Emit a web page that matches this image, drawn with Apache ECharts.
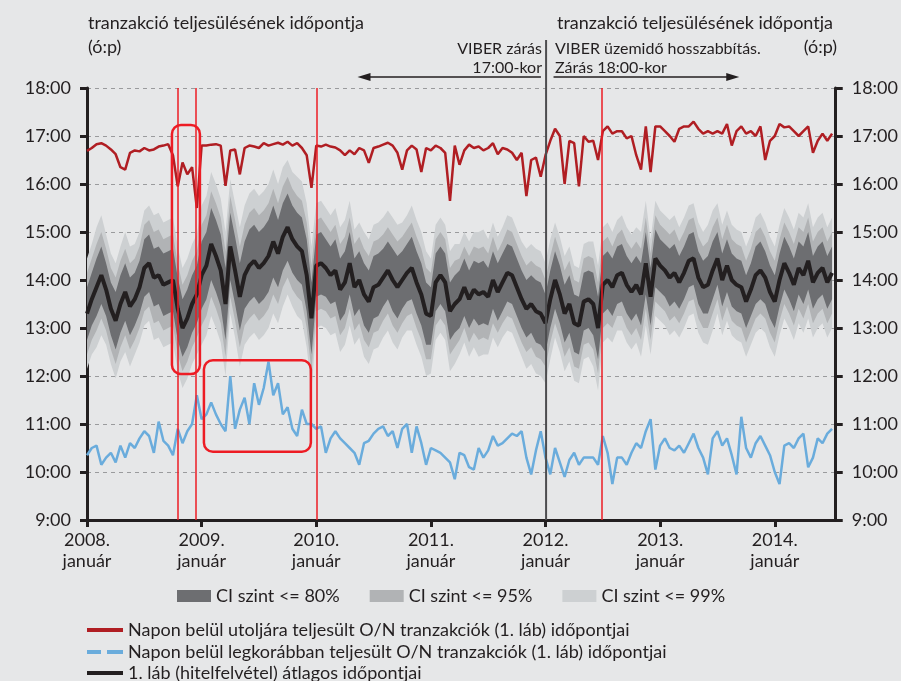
<!DOCTYPE html>
<html>
<head>
<meta charset="utf-8">
<script src="https://cdn.jsdelivr.net/npm/echarts@6/dist/echarts.min.js"></script>
<style>
  html, body { margin: 0; padding: 0; background: #e6e7e8; }
  #chart { width: 901px; height: 681px; }
</style>
</head>
<body>
<div id="chart"></div>
<script>
// félhavi pontok 2008. jan. 1-től 2014. júl. 1-ig, órában (pl. 16.5 = 16:30)
var lastTrade = [
  16.69,16.75,16.83,16.85,16.8,16.72,16.62,16.35,16.3,16.65,16.7,16.68,16.75,16.7,16.72,16.78,16.8,16.83,16.6,15.95,16.45,16.2,16.35,15.5,16.8,16.8,16.82,
  16.83,16.8,15.96,16.7,16.72,16.2,16.75,16.8,16.78,16.75,16.85,16.8,16.83,16.86,16.82,16.88,16.8,16.85,16.75,16.6,15.92,16.8,16.78,16.82,16.78,
  16.76,16.7,16.6,16.7,16.62,16.75,16.7,16.44,16.75,16.78,16.82,16.86,16.8,16.65,16.3,16.7,16.8,16.72,16.25,16.75,16.7,16.8,16.75,16.65,15.65,16.8,16.4,
  16.7,16.82,16.75,16.78,16.7,16.75,16.85,16.62,16.75,16.72,16.65,16.5,16.65,15.75,16.5,16.55,16.15,16.6,16.9,17.15,17.0,16.0,16.9,16.85,15.95,17.0,
  16.88,16.9,16.5,17.1,17.2,17.05,17.1,17.1,16.95,17.0,16.6,16.3,17.2,16.25,17.2,17.2,17.1,17.0,16.88,17.15,17.2,17.2,17.3,17.15,17.05,17.1,
  17.05,17.1,17.05,17.25,16.8,17.1,17.2,17.05,17.1,17.0,17.2,16.5,16.9,17.0,17.25,17.18,17.2,17.1,17.0,17.1,17.2,16.65,16.9,17.05,16.9,17.05
];
var firstTrade = [
  10.35,10.5,10.55,10.15,10.3,10.4,10.2,10.55,10.3,10.6,10.5,10.7,10.85,10.75,10.4,11.05,10.65,10.55,10.35,10.9,10.6,10.85,11.0,11.6,11.1,11.2,11.45,
  11.2,11.0,10.85,12.0,10.9,11.3,11.55,11.0,11.85,11.4,11.75,12.3,11.6,11.85,11.2,11.35,10.9,10.75,11.3,11.0,11.0,10.9,10.95,10.4,10.7,
  10.85,10.7,10.6,10.5,10.4,10.15,10.6,10.65,10.8,10.9,10.95,10.75,10.85,10.5,10.9,11.0,10.4,10.95,10.6,10.15,10.5,10.45,10.4,10.3,10.2,9.85,10.4,
  10.35,10.1,10.05,10.5,10.3,10.45,10.75,10.55,10.6,10.7,10.8,10.75,10.85,10.3,9.95,10.45,10.85,10.3,9.95,10.5,10.2,9.9,10.25,10.4,10.15,10.3,
  10.3,10.3,10.15,10.75,10.4,9.75,10.3,10.3,10.15,10.4,10.6,10.5,10.85,11.1,10.05,10.55,10.7,10.5,10.45,10.55,10.4,10.6,10.8,10.5,10.3,9.95,
  10.7,10.85,10.55,10.7,10.35,9.95,11.15,10.5,10.3,10.6,10.75,10.55,10.35,10.0,9.75,10.55,10.6,10.5,10.7,10.8,10.1,10.3,10.7,10.6,10.8,10.9
];
var avgTime = [
  13.3,13.6,13.85,14.1,13.8,13.4,13.15,13.5,13.75,13.45,13.6,13.85,14.25,14.35,14.05,14.1,13.9,13.95,14.0,13.4,13.0,13.2,13.5,13.7,14.1,14.3,14.75,
  14.5,14.2,13.5,14.7,14.2,13.65,14.1,14.3,14.4,14.25,14.35,14.5,14.8,14.55,14.9,15.1,14.85,14.7,14.6,14.1,13.2,14.3,14.35,14.25,14.1,
  14.2,13.8,13.95,14.35,13.85,14.0,13.7,13.55,13.85,13.9,14.05,14.2,14.0,13.85,14.0,14.15,14.25,13.95,13.7,13.3,13.25,13.95,14.1,13.95,13.35,13.5,13.6,
  13.85,13.6,13.8,13.7,13.75,13.65,14.0,13.75,13.95,14.15,14.1,13.85,13.6,13.4,13.5,13.35,13.3,13.1,13.6,14.0,13.7,13.3,13.5,13.1,13.05,13.55,
  13.6,13.5,13.0,13.9,14.0,13.85,14.1,14.15,13.9,13.75,13.9,13.7,14.35,13.65,14.45,14.3,14.2,14.05,14.15,13.95,14.15,14.4,14.45,14.05,13.85,13.9,
  14.2,14.45,14.0,14.3,14.0,13.9,13.85,13.55,13.8,14.1,14.2,14.05,13.75,13.55,14.0,14.35,14.15,13.9,14.25,14.1,14.4,13.95,14.15,14.25,13.95,14.15
];
// konfidencia-sávok havi félszélessége (óra), 2008. jan. - 2014. júl.
var ci80 = [
  .55,.6,.55,.6,.6,.55,.6,.6,.65,.65,.6,.6,
  .7,.75,.75,.7,.7,.75,.75,.75,.7,.7,.7,.75,
  .65,.6,.65,.65,.6,.65,.65,.6,.65,.6,.65,.65,
  .6,.6,.6,.6,.6,.65,.6,.6,.6,.6,.6,.65,
  .6,.6,.6,.6,.6,.65,.6,.6,.6,.6,.65,.6,
  .55,.6,.55,.55,.55,.6,.55,.55,.55,.55,.6,.55,
  .55,.55,.55,.6,.55,.55,.55
];
var ci95 = [
  .85,.9,.85,.9,.9,.85,.9,.95,.95,.95,.9,.9,
  1.05,1.1,1.1,1.05,1.05,1.1,1.1,1.1,1.05,1.05,1.05,1.1,
  .95,.9,.95,.95,.9,.95,.95,.9,.95,.9,.95,.95,
  .9,.9,.9,.85,.9,.95,.9,.85,.9,.9,.9,.95,
  .9,.9,.9,.9,.9,.95,.9,.85,.9,.9,.95,.9,
  .85,.9,.85,.85,.85,.9,.85,.85,.85,.85,.9,.85,
  .85,.85,.85,.9,.85,.85,.85
];
var ci99 = [
  1.15,1.25,1.15,1.2,1.25,1.15,1.2,1.3,1.3,1.3,1.25,1.25,
  1.45,1.5,1.5,1.4,1.45,1.5,1.5,1.5,1.45,1.4,1.45,1.5,
  1.3,1.25,1.3,1.3,1.2,1.3,1.3,1.25,1.3,1.2,1.3,1.3,
  1.2,1.2,1.25,1.15,1.2,1.3,1.2,1.15,1.2,1.2,1.25,1.3,
  1.25,1.2,1.2,1.2,1.2,1.3,1.2,1.15,1.2,1.2,1.3,1.2,
  1.15,1.2,1.15,1.15,1.15,1.25,1.15,1.15,1.15,1.15,1.2,1.15,
  1.15,1.15,1.15,1.2,1.15,1.15,1.15
];
// függőleges jelölések (tört év)
var redMarks = [2008.793, 2008.95, 2009.997, 2012.49];
var viberDate = 2012.005;

var FONT = 'Lato, "Open Sans", sans-serif';
var TXT = '#231f20';

var xs = [];
for (var i = 0; i < avgTime.length; i++) xs.push(2008 + i / 24);

function pairs(vals) {
  return vals.map(function (v, i) { return [xs[i], v]; });
}

// konfidencia-sáv: egy poligon a felső és alsó szélből
function band(w, name, color) {
  var data = xs.map(function (x, i) {
    var m = Math.floor(i / 2);
    return [x, avgTime[i] - w[m], avgTime[i] + w[m]];
  });
  return {
    name: name, type: 'custom', silent: true, data: data,
    encode: { x: 0, y: [1, 2] },
    itemStyle: { color: color },
    renderItem: function (params, api) {
      if (params.dataIndex !== 0) return;
      var up = [], down = [];
      for (var i = 0; i < data.length; i++) {
        up.push(api.coord([data[i][0], data[i][2]]));
        down.push(api.coord([data[i][0], data[i][1]]));
      }
      return { type: 'polygon', shape: { points: up.concat(down.reverse()) },
        style: { fill: color } };
    }
  };
}

var chart = echarts.init(document.getElementById('chart'));

var nameRed = 'Napon belül utoljára teljesült O/N tranzakciók (1. láb) időpontjai';
var nameBlue = 'Napon belül legkorábban teljesült O/N tranzakciók (1. láb) időpontjai';
var nameBlack = '1. láb (hitelfelvétel) átlagos időpontjai';

var series = [
  band(ci99, 'CI szint <= 99%', '#cdd0d2'),
  band(ci95, 'CI szint <= 95%', '#b1b3b5'),
  band(ci80, 'CI szint <= 80%', '#6d6e71'),
  { name: nameRed, type: 'line', data: pairs(lastTrade), symbol: 'none',
    itemStyle: { color: '#b01e23' }, lineStyle: { color: '#b01e23', width: 2.5 } },
  { name: nameBlue, type: 'line', data: pairs(firstTrade), symbol: 'none',
    itemStyle: { color: '#6aacdc' }, lineStyle: { color: '#6aacdc', width: 2.5 } },
  { name: nameBlack, type: 'line', data: pairs(avgTime), symbol: 'none',
    itemStyle: { color: '#231f20' }, lineStyle: { color: '#231f20', width: 4 },
    markLine: {
      silent: true, symbol: 'none', label: { show: false },
      lineStyle: { color: '#ed1c24', width: 1.5, type: 'solid' },
      data: redMarks.map(function (x) { return { xAxis: x }; })
    } }
];

var yAxisBase = {
  type: 'value', min: 9, max: 18, interval: 1,
  axisLine: { show: true, lineStyle: { color: TXT, width: 3 } },
  axisTick: { show: true, length: 7, lineStyle: { color: TXT, width: 3 } },
  axisLabel: { fontFamily: FONT, fontSize: 18, color: TXT, margin: 16,
    formatter: function (v) { return v + ':00'; } }
};

function lineLegend(name, top, icon, color) {
  return {
    left: 87, top: top, padding: 0, itemWidth: 36, itemHeight: 4, itemGap: 0,
    selectedMode: false,
    textStyle: { fontFamily: FONT, fontSize: 18, color: TXT },
    data: [{ name: name, icon: icon, itemStyle: { color: color } }]
  };
}

chart.setOption({
  backgroundColor: '#e6e7e8',
  animation: false,
  textStyle: { fontFamily: FONT },
  grid: { left: 87, right: 65, top: 88, bottom: 161 },
  xAxis: {
    type: 'value', min: 2008, max: 2014.532, interval: 1,
    axisLine: { lineStyle: { color: TXT, width: 3 } },
    axisTick: { length: 7, lineStyle: { color: TXT, width: 3 } },
    splitLine: { show: false },
    axisLabel: { fontFamily: FONT, fontSize: 18, color: TXT, margin: 10, lineHeight: 21,
      showMaxLabel: false,
      formatter: function (v) { return v + '.\njanuár'; } }
  },
  yAxis: [
    Object.assign({}, yAxisBase, {
      position: 'left',
      splitLine: { show: true, lineStyle: { color: '#9a9b9d', width: 1, type: [4, 4] } }
    }),
    Object.assign({}, yAxisBase, { position: 'right', splitLine: { show: false } })
  ],
  legend: [
    {
      left: 177, top: 587, padding: 0, itemWidth: 34, itemHeight: 12, itemGap: 30,
      selectedMode: false,
      textStyle: { fontFamily: FONT, fontSize: 18, color: TXT },
      data: [
        { name: 'CI szint <= 80%', icon: 'rect', itemStyle: { color: '#6d6e71' } },
        { name: 'CI szint <= 95%', icon: 'rect', itemStyle: { color: '#b1b3b5' } },
        { name: 'CI szint <= 99%', icon: 'rect', itemStyle: { color: '#cdd0d2' } }
      ]
    },
    lineLegend(nameRed, 621, 'rect', '#b01e23'),
    lineLegend(nameBlue, 643, 'path://M0,0h14v4h-14z M20,0h16v4h-16z', '#6aacdc'),
    lineLegend(nameBlack, 664, 'rect', '#231f20')
  ],
  series: series
});

// annotációk pixelben, a tengelyek skáláján keresztül
function px(x, y) { return chart.convertToPixel({ gridIndex: 0 }, [x, y]); }

function roundBox(x0, y0, x1, y1) {
  var a = px(x0, y0), b = px(x1, y1);
  return { type: 'rect', z: 50,
    shape: { x: a[0], y: a[1], width: b[0] - a[0], height: b[1] - a[1], r: 9 },
    style: { fill: 'none', stroke: '#ed1c24', lineWidth: 2.5 } };
}

function arrow(xFrom, xTo, y) {
  var a = px(xFrom, 18)[0], b = px(xTo, 18)[0];
  var dir = b > a ? 1 : -1;
  return [
    { type: 'line', shape: { x1: a, y1: y, x2: b - dir * 8, y2: y },
      style: { stroke: TXT, lineWidth: 1.5 } },
    { type: 'polygon', shape: { points: [[b, y], [b - dir * 13, y - 4], [b - dir * 13, y + 4]] },
      style: { fill: TXT } }
  ];
}

function label(text, x, y, align, size) {
  return { type: 'text', x: x, y: y,
    style: { text: text, fill: TXT, font: (size || 18) + 'px ' + FONT,
      align: align || 'left', verticalAlign: 'middle' } };
}

var vx = px(viberDate, 9)[0];
var graphics = [
  label('tranzakció teljesülésének időpontja', 88, 23),
  label('(ó:p)', 88, 47),
  label('tranzakció teljesülésének időpontja', 833, 23, 'right'),
  label('(ó:p)', 837, 47, 'right'),
  label('VIBER zárás', 542, 49, 'right', 16),
  label('17:00-kor', 542, 68, 'right', 16),
  label('VIBER üzemidő hosszabbítás.', 555, 49, 'left', 16),
  label('Zárás 18:00-kor', 555, 68, 'left', 16),
  { type: 'line', z: 40, shape: { x1: vx, y1: 40, x2: vx, y2: px(viberDate, 9)[1] },
    style: { stroke: '#4d4d4f', lineWidth: 2 } },
  roundBox(2008.741, 17.23, 2008.985, 12.04),
  roundBox(2009.02, 12.33, 2009.953, 10.42)
].concat(arrow(2011.96, 2010.36, 77), arrow(2012.07, 2013.69, 77));

chart.setOption({ graphic: graphics });
</script>
</body>
</html>
